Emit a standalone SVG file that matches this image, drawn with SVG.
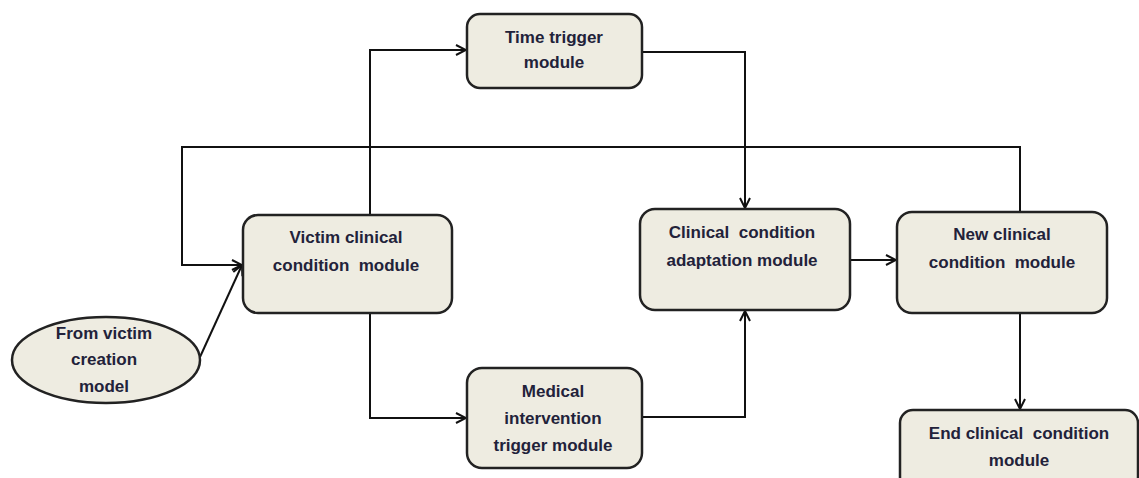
<svg xmlns="http://www.w3.org/2000/svg" width="1139" height="478" viewBox="0 0 1139 478">
<style>
.box{fill:#EEECE1;stroke:#222;stroke-width:2.5}
.lbl{font-family:"Liberation Sans",Arial,sans-serif;font-weight:bold;font-size:17px;fill:#22223a;text-anchor:middle;white-space:pre}
.conn{fill:none;stroke:#111;stroke-width:2}
</style>
<defs>
<marker id="arr" viewBox="0 0 12 12" refX="11" refY="6" markerWidth="12" markerHeight="12" markerUnits="userSpaceOnUse" orient="auto">
<path d="M1,1 L11,6 L1,11" fill="none" stroke="#111" stroke-width="2"/>
</marker>
</defs>
<rect width="1139" height="478" fill="#fff"/>
<g id="connectors">
<path class="conn" d="M1020,212 V147 H182 V265 H242" marker-end="url(#arr)"/>
<path class="conn" d="M200,357 L242,265" marker-end="url(#arr)"/>
<path class="conn" d="M370,214 V50 H466" marker-end="url(#arr)"/>
<path class="conn" d="M642,52 H745 V208" marker-end="url(#arr)"/>
<path class="conn" d="M370,313 V418 H466" marker-end="url(#arr)"/>
<path class="conn" d="M642,417 H745 V311" marker-end="url(#arr)"/>
<path class="conn" d="M850,260 H896" marker-end="url(#arr)"/>
<path class="conn" d="M1020,313 V409" marker-end="url(#arr)"/>
</g>
<g id="source">
<ellipse class="box" cx="106" cy="360" rx="94" ry="43"/>
<text class="lbl" x="104" y="339">From victim</text>
<text class="lbl" x="104" y="365">creation</text>
<text class="lbl" x="104" y="392">model</text>
</g>
<g id="victim">
<rect class="box" x="243" y="215" width="209" height="98" rx="15"/>
<text class="lbl" x="346" y="243">Victim clinical</text>
<text class="lbl" x="346" y="271">condition  module</text>
</g>
<g id="time">
<rect class="box" x="467" y="14" width="175" height="74" rx="13"/>
<text class="lbl" x="554" y="43">Time trigger</text>
<text class="lbl" x="554" y="68">module</text>
</g>
<g id="medical">
<rect class="box" x="467" y="368" width="175" height="100" rx="15"/>
<text class="lbl" x="553" y="397">Medical</text>
<text class="lbl" x="553" y="424">intervention</text>
<text class="lbl" x="553" y="451">trigger module</text>
</g>
<g id="adaptation">
<rect class="box" x="640" y="209" width="210" height="101" rx="15"/>
<text class="lbl" x="742" y="238">Clinical  condition</text>
<text class="lbl" x="742" y="266">adaptation module</text>
</g>
<g id="newcond">
<rect class="box" x="897" y="212" width="210" height="101" rx="15"/>
<text class="lbl" x="1002" y="240">New clinical</text>
<text class="lbl" x="1002" y="268">condition  module</text>
</g>
<g id="endcond">
<rect class="box" x="900" y="410" width="238" height="80" rx="13"/>
<text class="lbl" x="1019" y="439">End clinical  condition</text>
<text class="lbl" x="1019" y="466">module</text>
</g>
</svg>
